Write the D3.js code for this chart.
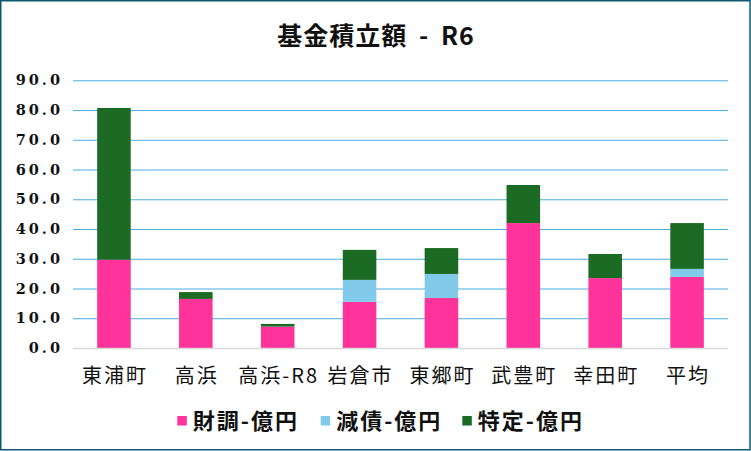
<!DOCTYPE html>
<html>
<head>
<meta charset="utf-8">
<script src="https://cdn.jsdelivr.net/npm/d3@7"></script>
<style>
    body { margin: 0; background: #fff; }
    svg { display: block; }
</style>
</head>
<body>
<svg id="chart" width="751" height="451"></svg>
<script>
    'use strict';

    // data
    let categories = ['東浦町', '高浜', '高浜-R8', '岩倉市', '東郷町', '武豊町', '幸田町', '平均']
    let zaicho = [29.7, 16.5, 7.2, 15.5, 16.8, 42.0, 23.5, 23.9]
    let gensai = [0, 0, 0, 7.4, 8.1, 0, 0, 2.7]
    let tokutei = [51.0, 2.3, 0.9, 10.1, 8.7, 12.8, 8.1, 15.4]
    let seriesNames = ['財調-億円', '減債-億円', '特定-億円']
    let yTicks = [0, 10, 20, 30, 40, 50, 60, 70, 80, 90]

    let colors = ['#ff3399', '#82caea', '#1b6b24']
    let jpFont = '"Noto Sans CJK JP", "Noto Sans", sans-serif'

    let svg = d3.select('#chart')

    let plotL = 73, plotR = 728, plotT = 80.3, plotB = 348

    let rows = categories.map(function(c, i) {
        return { cat: c, s0: zaicho[i], s1: gensai[i], s2: tokutei[i] }
    })
    let stacked = d3.stack().keys(['s0', 's1', 's2'])(rows)

    let x = d3.scaleBand()
        .domain(categories)
        .range([plotL, plotR])
        .paddingInner(0.59)
        .paddingOuter(0.295)

    let y = d3.scaleLinear()
        .domain([0, 90])
        .range([plotB, plotT])

    // outer frame
    svg.append('rect')
        .attr('x', 0.75)
        .attr('y', 0.75)
        .attr('width', 749.3)
        .attr('height', 449)
        .attr('fill', '#fff')
        .attr('stroke', '#0d5870')
        .attr('stroke-width', 1.5)

    // title
    svg.append('text')
        .attr('x', 376)
        .attr('y', 45)
        .attr('text-anchor', 'middle')
        .attr('font-family', jpFont)
        .attr('font-weight', 700)
        .attr('font-size', 25)
        .attr('letter-spacing', 1)
        .attr('word-spacing', 5)
        .attr('fill', '#111')
        .text('基金積立額 - R6')

    // grid lines
    let yAxis = d3.axisLeft(y)
        .tickValues(yTicks.filter(function(v) { return v > 0 }))
        .tickSize(-(plotR - plotL))
        .tickFormat('')
    let grid = svg.append('g')
        .attr('transform', 'translate(' + plotL + ',0)')
        .call(yAxis)
    grid.select('.domain').remove()
    grid.selectAll('line')
        .attr('stroke', '#48ace0')
        .attr('stroke-width', 1)

    // y tick labels
    svg.append('g')
        .selectAll('text')
        .data(yTicks)
        .join('text')
        .attr('x', 63)
        .attr('y', function(d) { return y(d) + 5 })
        .attr('text-anchor', 'end')
        .attr('font-family', '"DejaVu Serif", serif')
        .attr('font-weight', 700)
        .attr('font-size', 14.5)
        .attr('letter-spacing', 3)
        .attr('fill', '#111')
        .text(function(d) { return d3.format('.1f')(d) })

    // bars
    svg.append('g')
        .selectAll('g')
        .data(stacked)
        .join('g')
        .attr('fill', function(d, i) { return colors[i] })
        .selectAll('rect')
        .data(function(d) { return d })
        .join('rect')
        .attr('x', function(d) { return x(d.data.cat) })
        .attr('width', x.bandwidth())
        .attr('y', function(d) { return y(d[1]) })
        .attr('height', function(d) { return y(d[0]) - y(d[1]) })

    // baseline
    svg.append('line')
        .attr('x1', plotL)
        .attr('x2', plotR)
        .attr('y1', plotB + 0.5)
        .attr('y2', plotB + 0.5)
        .attr('stroke', '#d9d9d9')
        .attr('stroke-width', 1.5)

    // category labels
    svg.append('g')
        .selectAll('text')
        .data(categories)
        .join('text')
        .attr('x', function(d) { return x(d) + x.bandwidth() / 2 + 1 })
        .attr('y', 383)
        .attr('text-anchor', 'middle')
        .attr('font-family', jpFont)
        .attr('font-size', 20)
        .attr('letter-spacing', 2)
        .attr('fill', '#111')
        .text(function(d) { return d })

    // legend
    let legendX = [177.3, 320.7, 462.3]
    let legend = svg.append('g')
        .selectAll('g')
        .data(seriesNames)
        .join('g')
        .attr('transform', function(d, i) { return 'translate(' + legendX[i] + ',0)' })
    legend.append('rect')
        .attr('y', 416)
        .attr('width', 9.5)
        .attr('height', 9.5)
        .attr('fill', function(d, i) { return colors[i] })
    legend.append('text')
        .attr('x', 15.5)
        .attr('y', 429)
        .attr('font-family', jpFont)
        .attr('font-weight', 700)
        .attr('font-size', 22)
        .attr('letter-spacing', 2)
        .attr('fill', '#111')
        .text(function(d) { return d })
</script>
</body>
</html>
